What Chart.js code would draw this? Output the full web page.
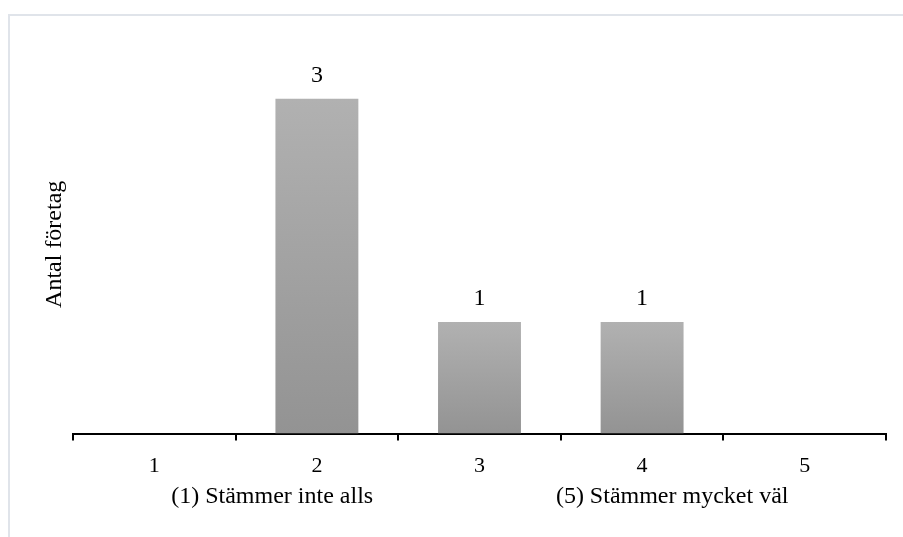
<!DOCTYPE html>
<html>
<head>
<meta charset="utf-8">
<script src="https://cdn.jsdelivr.net/npm/chart.js@4.4.1/dist/chart.umd.min.js"></script>
<style>
    html, body { margin: 0; padding: 0; background: #fff; }
    #wrap { position: relative; width: 903px; height: 537px; overflow: hidden; }
    #frame {
        position: absolute; left: 8px; top: 14px; width: 920px; height: 600px;
        border: 2px solid #e0e4ea; pointer-events: none;
    }
    canvas { position: absolute; left: 0; top: 0; }
</style>
</head>
<body>
<div id="wrap">
    <canvas id="chart" width="903" height="537"></canvas>
    <div id="frame"></div>
</div>
<script>
const categories = ['1', '2', '3', '4', '5'];
const counts = [0, 3, 1, 1, 0];
const yMax = 3.5;
const yTitle = 'Antal företag';
const scaleNotes = ['(1) Stämmer inte alls', '(5) Stämmer mycket väl'];

const serif = '"Liberation Serif", "Times New Roman", serif';

// per-bar gradient, light at top, darker at the base
function barFill(ctx) {
    const chart = ctx.chart;
    const area = chart.chartArea;
    if (!area || !chart.scales.y) return '#a4a4a4';
    const yTop = chart.scales.y.getPixelForValue(ctx.raw || 0);
    const yBase = chart.scales.y.getPixelForValue(0);
    if (yBase - yTop < 1) return '#a4a4a4';
    const g = chart.ctx.createLinearGradient(0, yTop, 0, yBase);
    g.addColorStop(0, '#b1b1b1');
    g.addColorStop(1, '#939393');
    return g;
}

const extraText = {
    id: 'extraText',
    afterDatasetsDraw(chart) {
        const ctx = chart.ctx;
        const area = chart.chartArea;
        const meta = chart.getDatasetMeta(0);
        ctx.save();
        ctx.fillStyle = '#000';
        ctx.textAlign = 'center';
        ctx.textBaseline = 'middle';
        ctx.font = '24px ' + serif;
        meta.data.forEach((bar, i) => {
            if (!counts[i]) return;
            ctx.fillText(String(counts[i]), bar.x, bar.y - 23);
        });

        // y title
        ctx.save();
        ctx.translate(area.left - 18, (area.top + area.bottom) / 2 + 6);
        ctx.rotate(-Math.PI / 2);
        ctx.fillText(yTitle, 0, 0);
        ctx.restore();

        // scale descriptions under the axis
        const w = area.right - area.left;
        ctx.fillText(scaleNotes[0], area.left + w * 0.245, area.bottom + 63);
        ctx.fillText(scaleNotes[1], area.left + w * 0.737, area.bottom + 63);
        ctx.restore();
    }
};

new Chart(document.getElementById('chart'), {
    type: 'bar',
    data: {
        labels: categories,
        datasets: [{
            label: yTitle,
            data: counts,
            backgroundColor: barFill,
            borderWidth: 0,
            barPercentage: 0.51,
            categoryPercentage: 1.0
        }]
    },
    options: {
        responsive: false,
        animation: false,
        layout: {
            padding: { left: 73, right: 17, top: 43, bottom: 46 }
        },
        plugins: {
            legend: { display: false },
            tooltip: { enabled: false }
        },
        scales: {
            x: {
                offset: true,
                grid: {
                    offset: true,
                    drawOnChartArea: false,
                    drawTicks: true,
                    tickLength: 7,
                    color: '#000',
                    lineWidth: 2
                },
                border: { display: true, color: '#000', width: 2 },
                ticks: {
                    color: '#000',
                    padding: 12,
                    font: { family: serif, size: 22 },
                    maxRotation: 0
                }
            },
            y: {
                display: false,
                min: 0,
                max: yMax
            }
        }
    },
    plugins: [extraText]
});
</script>
</body>
</html>
